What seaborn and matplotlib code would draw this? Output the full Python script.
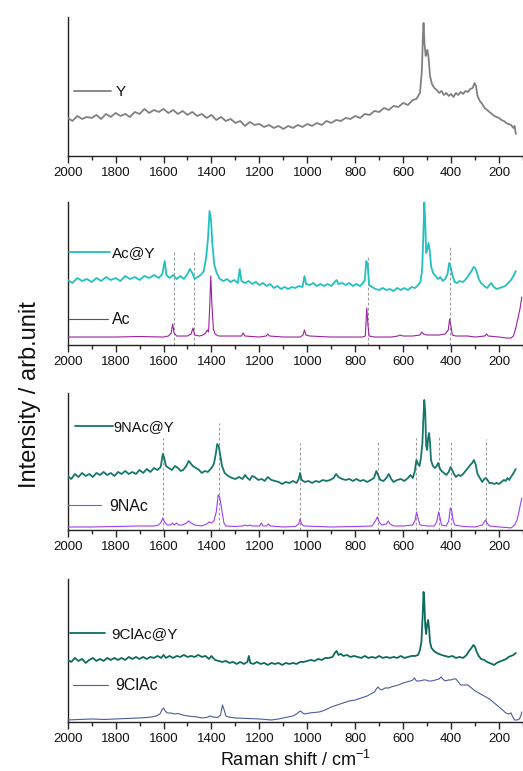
import numpy as np
import pandas as pd
import matplotlib
matplotlib.use('Agg')
import matplotlib.pyplot as plt
from matplotlib.legend import Legend
import seaborn as sns

# Raman spectra (shift in cm-1, intensity in arb. units)
y_pts = [(2000, 38), (1980, 35), (1960, 40), (1940, 37), (1920, 39), (1900, 38), (1880, 41), (1860, 37),
         (1840, 42), (1820, 39), (1800, 43), (1780, 40), (1760, 42), (1740, 39), (1720, 44), (1700, 42),
         (1680, 47), (1660, 43), (1640, 46), (1620, 44), (1600, 47), (1580, 43), (1560, 46), (1540, 42),
         (1520, 45), (1500, 41), (1480, 44), (1460, 40), (1440, 42), (1420, 38), (1400, 41), (1380, 36),
         (1360, 39), (1340, 35), (1320, 37), (1300, 33), (1280, 35), (1260, 30), (1240, 34), (1220, 31),
         (1200, 32), (1180, 29), (1160, 31), (1140, 28), (1120, 30), (1100, 27), (1080, 30), (1060, 28),
         (1040, 31), (1020, 29), (1000, 32), (980, 30), (960, 33), (940, 31), (920, 35), (900, 33),
         (880, 36), (860, 35), (840, 38), (820, 37), (800, 40), (780, 38), (760, 42), (740, 41),
         (720, 45), (700, 44), (680, 48), (660, 46), (640, 50), (620, 49), (600, 53), (580, 51),
         (560, 56), (545, 57), (530, 63), (522, 85), (518, 118), (515, 133), (511, 112), (506, 100),
         (502, 104), (499, 106), (494, 98), (488, 80), (480, 72), (470, 68), (460, 66), (450, 63),
         (440, 65), (430, 61), (420, 63), (410, 60), (400, 62), (390, 59), (380, 63), (370, 61),
         (360, 64), (350, 62), (340, 65), (330, 64), (320, 67), (310, 68), (302, 73), (296, 70),
         (290, 60), (280, 55), (270, 52), (260, 48), (250, 46), (240, 44), (230, 42), (220, 40),
         (210, 39), (200, 38), (190, 36), (180, 35), (170, 33), (160, 32), (150, 31), (140, 28),
         (135, 30), (130, 22)]

acy_pts = [(2000, 65), (1980, 62), (1960, 67), (1940, 64), (1920, 66), (1900, 63), (1880, 67), (1860, 64),
           (1840, 68), (1820, 65), (1800, 67), (1780, 64), (1760, 69), (1740, 66), (1720, 68), (1700, 65),
           (1680, 69), (1660, 67), (1640, 70), (1620, 67), (1605, 71), (1595, 84), (1588, 70), (1575, 67),
           (1560, 70), (1545, 66), (1530, 69), (1515, 66), (1500, 71), (1490, 76), (1480, 72), (1470, 66),
           (1458, 68), (1445, 70), (1432, 74), (1422, 88), (1414, 108), (1408, 134), (1402, 126), (1396, 100),
           (1388, 80), (1378, 72), (1365, 66), (1350, 64), (1335, 66), (1320, 63), (1305, 65), (1290, 62),
           (1282, 76), (1275, 64), (1260, 62), (1245, 64), (1230, 61), (1215, 63), (1200, 60), (1185, 62),
           (1170, 59), (1155, 61), (1140, 57), (1125, 59), (1110, 56), (1095, 58), (1080, 56), (1065, 58),
           (1050, 57), (1035, 59), (1020, 58), (1012, 69), (1005, 61), (990, 60), (975, 62), (960, 59),
           (945, 61), (930, 59), (915, 61), (900, 59), (885, 63), (878, 65), (870, 61), (855, 62),
           (840, 60), (825, 62), (810, 59), (795, 61), (780, 59), (768, 62), (760, 65), (754, 84),
           (748, 80), (742, 60), (730, 58), (715, 56), (700, 55), (685, 57), (670, 55), (655, 56),
           (640, 54), (625, 57), (610, 55), (595, 57), (580, 55), (565, 58), (550, 57), (538, 60),
           (528, 63), (521, 75), (516, 108), (512, 143), (508, 124), (504, 92), (499, 96), (494, 102),
           (489, 94), (483, 78), (475, 72), (465, 69), (455, 66), (445, 68), (435, 64), (425, 66),
           (415, 71), (408, 82), (402, 78), (395, 70), (385, 63), (375, 62), (365, 64), (350, 63),
           (338, 66), (326, 70), (315, 74), (306, 78), (300, 77), (294, 74), (285, 66), (275, 62),
           (262, 59), (250, 57), (240, 60), (232, 62), (222, 58), (210, 56), (198, 57), (186, 58),
           (174, 59), (162, 62), (150, 65), (140, 69), (130, 74)]

ac_pts = [(2000, 8), (1800, 8), (1700, 8.5), (1600, 8), (1580, 9), (1568, 12), (1562, 21), (1556, 12),
          (1545, 9), (1500, 9), (1485, 11), (1477, 17), (1470, 10), (1450, 9), (1435, 10), (1425, 12),
          (1418, 15), (1412, 13), (1407, 40), (1403, 69), (1398, 40), (1392, 16), (1385, 11), (1370, 9),
          (1300, 9), (1275, 9), (1268, 12), (1260, 9), (1200, 8), (1172, 9), (1165, 11), (1158, 9),
          (1100, 8), (1030, 8), (1018, 10), (1012, 15), (1006, 10), (990, 9), (900, 8), (800, 8),
          (770, 8), (758, 9), (752, 37), (747, 20), (742, 9), (720, 8), (650, 8), (622, 9),
          (615, 10), (600, 9), (560, 9), (530, 10), (522, 13), (515, 11), (500, 10), (480, 10),
          (450, 10), (425, 11), (418, 13), (412, 15), (406, 26), (400, 18), (395, 10), (380, 9),
          (330, 9), (300, 8), (260, 9), (252, 11), (245, 9), (200, 8), (170, 7), (150, 7),
          (140, 9), (130, 17), (120, 28), (112, 37), (105, 48)]

nacy_pts = [(2000, 54), (1985, 51), (1970, 56), (1955, 53), (1940, 57), (1925, 54), (1910, 56), (1895, 53),
            (1880, 57), (1865, 55), (1850, 58), (1835, 55), (1820, 57), (1805, 54), (1790, 58), (1775, 56),
            (1760, 59), (1745, 56), (1730, 58), (1715, 56), (1700, 60), (1685, 57), (1670, 61), (1655, 58),
            (1640, 62), (1625, 60), (1612, 63), (1603, 76), (1597, 72), (1590, 64), (1578, 62), (1565, 60),
            (1552, 64), (1540, 62), (1528, 59), (1518, 60), (1505, 64), (1495, 69), (1488, 67), (1478, 64),
            (1465, 62), (1452, 60), (1440, 57), (1428, 59), (1415, 58), (1400, 62), (1390, 66), (1382, 76),
            (1376, 86), (1370, 84), (1364, 76), (1356, 64), (1345, 57), (1330, 54), (1315, 52), (1300, 51),
            (1285, 53), (1270, 51), (1260, 55), (1250, 52), (1240, 50), (1230, 54), (1220, 53), (1205, 50),
            (1190, 51), (1178, 49), (1165, 53), (1150, 50), (1135, 49), (1120, 48), (1105, 46), (1090, 48),
            (1075, 47), (1060, 49), (1045, 47), (1036, 51), (1030, 57), (1024, 50), (1010, 48), (995, 49),
            (980, 47), (965, 49), (950, 48), (935, 50), (920, 49), (905, 50), (890, 52), (880, 56),
            (870, 53), (855, 51), (840, 50), (825, 51), (810, 49), (795, 51), (780, 49), (765, 50),
            (750, 48), (735, 50), (722, 52), (712, 59), (705, 55), (695, 50), (682, 49), (670, 52),
            (660, 56), (650, 51), (640, 48), (625, 50), (610, 51), (595, 49), (580, 52), (570, 55),
            (560, 52), (552, 58), (545, 70), (538, 66), (532, 64), (526, 72), (520, 86), (516, 110),
            (512, 130), (508, 118), (504, 84), (500, 80), (496, 92), (492, 97), (488, 88), (484, 70),
            (476, 64), (468, 62), (460, 64), (454, 67), (448, 62), (440, 59), (430, 57), (420, 55),
            (410, 58), (402, 63), (396, 60), (388, 56), (380, 53), (370, 55), (360, 54), (350, 56),
            (340, 59), (330, 62), (320, 65), (312, 67), (305, 70), (298, 66), (290, 56), (280, 52),
            (270, 48), (262, 51), (255, 52), (248, 50), (240, 47), (230, 47), (220, 46), (210, 47),
            (200, 46), (190, 48), (180, 50), (172, 49), (165, 52), (158, 50), (150, 53), (142, 56),
            (135, 59), (130, 61)]

nac_pts = [(2000, 3), (1900, 3), (1800, 3.5), (1700, 4), (1640, 4), (1620, 5), (1610, 8), (1603, 12),
           (1596, 8), (1585, 5), (1570, 5), (1562, 7), (1555, 5), (1545, 7), (1538, 5), (1520, 5),
           (1505, 7), (1495, 9), (1485, 7), (1470, 5), (1440, 4), (1420, 6), (1410, 8), (1400, 7),
           (1390, 9), (1380, 18), (1372, 35), (1366, 33), (1360, 25), (1354, 16), (1348, 7), (1340, 4),
           (1300, 3.5), (1270, 4), (1262, 5), (1250, 4), (1240, 5), (1230, 4), (1200, 4), (1192, 7),
           (1185, 4), (1170, 4), (1162, 6), (1155, 4), (1100, 3), (1050, 3.5), (1036, 6), (1030, 11),
           (1024, 6), (1015, 4), (900, 3), (800, 3.5), (730, 4), (716, 9), (708, 13), (700, 8),
           (690, 5), (670, 6), (662, 9), (655, 6), (640, 4), (600, 4), (560, 5), (550, 10),
           (544, 18), (538, 12), (530, 5), (500, 4), (470, 4), (460, 8), (452, 18), (446, 12),
           (440, 5), (420, 4), (410, 9), (403, 22), (398, 20), (392, 10), (385, 5), (350, 3.5),
           (300, 3), (270, 5), (262, 8), (256, 10), (250, 7), (240, 4), (200, 3), (170, 2.5),
           (150, 2), (135, 5), (125, 10), (118, 17), (112, 24), (105, 32)]

clacy_pts = [(2000, 62), (1985, 60), (1970, 64), (1955, 61), (1940, 63), (1925, 59), (1910, 62), (1895, 64),
             (1880, 61), (1865, 63), (1850, 61), (1835, 64), (1820, 62), (1805, 64), (1790, 62), (1775, 64),
             (1760, 62), (1745, 65), (1730, 63), (1715, 65), (1700, 63), (1685, 65), (1670, 63), (1655, 65),
             (1640, 64), (1625, 66), (1610, 64), (1600, 67), (1590, 64), (1575, 66), (1560, 64), (1545, 66),
             (1530, 65), (1515, 67), (1500, 65), (1485, 66), (1470, 65), (1455, 67), (1440, 65), (1425, 66),
             (1410, 63), (1400, 66), (1385, 62), (1370, 61), (1355, 60), (1340, 61), (1325, 59), (1310, 60),
             (1295, 58), (1280, 60), (1265, 58), (1250, 60), (1244, 66), (1238, 59), (1225, 58), (1210, 60),
             (1195, 58), (1180, 59), (1165, 57), (1150, 59), (1135, 58), (1120, 59), (1105, 57), (1090, 59),
             (1075, 58), (1060, 59), (1045, 58), (1030, 60), (1015, 60), (1000, 61), (985, 62), (970, 61),
             (955, 63), (940, 62), (925, 64), (910, 64), (895, 65), (885, 69), (878, 71), (870, 67),
             (860, 68), (850, 66), (835, 67), (820, 65), (805, 66), (790, 65), (775, 64), (760, 66),
             (745, 64), (730, 65), (715, 64), (700, 66), (685, 64), (670, 65), (655, 64), (640, 65),
             (625, 64), (610, 66), (595, 64), (580, 65), (565, 66), (550, 66), (538, 67), (530, 72),
             (524, 80), (519, 105), (515, 130), (512, 122), (508, 96), (504, 88), (500, 98), (496, 102),
             (492, 94), (488, 80), (482, 74), (472, 71), (460, 69), (450, 68), (440, 67), (425, 66),
             (410, 65), (395, 66), (380, 64), (365, 65), (350, 64), (335, 67), (325, 71), (315, 74),
             (307, 77), (300, 75), (293, 70), (285, 66), (275, 63), (262, 62), (250, 60), (240, 59),
             (230, 58), (220, 57), (210, 59), (200, 60), (190, 61), (180, 62), (170, 63), (160, 65),
             (150, 66), (140, 67), (130, 69)]

clac_pts = [(2000, 2), (1950, 2.5), (1900, 3), (1850, 2.5), (1800, 3), (1750, 3.5), (1700, 4), (1670, 4.5),
            (1650, 5), (1630, 6), (1615, 8), (1607, 12), (1600, 14), (1593, 11), (1585, 9), (1570, 9),
            (1555, 8), (1540, 8.5), (1520, 7), (1500, 6), (1480, 5.5), (1460, 5), (1440, 4), (1420, 4.5),
            (1405, 6), (1395, 5), (1375, 4.5), (1362, 7), (1354, 17), (1347, 12), (1340, 6), (1330, 5),
            (1300, 4), (1250, 3.5), (1200, 3), (1150, 2), (1120, 3), (1100, 4), (1080, 5), (1060, 6),
            (1045, 8), (1035, 10), (1028, 11), (1020, 9), (1010, 8), (990, 9), (970, 9.5), (950, 10),
            (925, 12), (900, 15), (875, 17), (850, 19), (825, 21), (800, 22), (775, 24), (750, 26),
            (735, 28), (720, 30), (712, 33), (705, 35), (698, 33), (690, 32), (675, 34), (660, 34),
            (650, 35), (635, 36), (620, 37), (600, 39), (585, 40), (570, 41), (560, 42), (553, 44),
            (545, 41), (530, 41), (515, 42), (505, 42), (495, 41), (480, 41), (465, 42), (450, 43),
            (442, 45), (435, 43), (425, 41), (410, 42), (400, 42), (390, 43), (380, 43), (370, 40),
            (360, 37), (345, 37), (330, 37), (315, 34), (300, 31), (285, 29), (270, 27), (255, 25),
            (240, 23), (225, 20), (210, 17), (200, 15), (185, 12), (172, 9), (160, 8), (150, 9),
            (143, 5), (135, 2), (125, 2), (115, 3), (108, 7), (105, 10)]

# guide lines (position, top)
ac_marks = [(1556, 95), (1474, 93), (747, 88), (403, 98)]
nac_marks = [(1602, 92), (1369, 107), (1029, 87), (707, 89), (545, 92), (450, 95), (399, 90), (256, 91)]

labels = ['Y', 'Ac@Y', 'Ac', '9NAc@Y', '9NAc', '9ClAc@Y', '9ClAc']
colors = ['#808080', '#22c0c0', '#9a22a0', '#17766c', '#a040f0', '#0f6b60', '#4b5c9c']

# %%
sns.set_theme(style="ticks")
plt.rcParams['font.family'] = ['Liberation Sans', 'DejaVu Sans']
plt.rcParams['mathtext.default'] = 'regular'

fig = plt.figure(figsize=(5.23, 7.71), dpi=100)
# [left, bottom, width, height], ylim top
panels = [([0.1294, 0.7977, 0.8706, 0.1803], 139),
          ([0.1294, 0.5525, 0.8706, 0.1855], 143),
          ([0.1294, 0.3126, 0.8706, 0.1777], 137),
          ([0.1294, 0.0636, 0.8706, 0.1855], 143)]
axes = [fig.add_axes(p[0]) for p in panels]


def to_df(pts):
    return pd.DataFrame(pts, columns=['shift', 'intensity'])


def draw(ax, pts, color, lw):
    sns.lineplot(data=to_df(pts), x='shift', y='intensity', ax=ax, color=color,
                 lw=lw, estimator=None, sort=False, zorder=3)
    return ax.lines[-1]


def add_label(ax, line, text, x, y, fs, hl, pad):
    leg = Legend(ax, [line], [text], loc='center left', bbox_to_anchor=(x, y),
                 frameon=False, fontsize=fs, handlelength=hl, handletextpad=pad,
                 borderpad=0, borderaxespad=0)
    for t in leg.get_texts():
        t.set_color('#111111')
    ax.add_artist(leg)


ax1, ax2, ax3, ax4 = axes

# guide lines first so spectra sit on top
for ax, marks in [(ax2, ac_marks), (ax3, nac_marks)]:
    mk = np.array(marks)
    ax.vlines(mk[:, 0], 0, mk[:, 1], colors='#9a9a9a', linestyles=(0, (2.5, 2)), lw=0.8, zorder=1)

l = draw(ax1, y_pts, colors[0], 1.3)
add_label(ax1, l, labels[0], 0.014, 0.46, 11, 2.42, 0.33)

l = draw(ax2, acy_pts, colors[1], 1.3)
add_label(ax2, l, labels[1], 0.003, 0.643, 11, 2.68, 0.13)
l = draw(ax2, ac_pts, colors[2], 0.8)
add_label(ax2, l, labels[2], 0.003, 0.175, 11.5, 2.44, 0.25)

l = draw(ax3, nacy_pts, colors[3], 1.3)
add_label(ax3, l, labels[3], 0.016, 0.752, 10.5, 2.6, 0.0)
l = draw(ax3, nac_pts, colors[4], 0.8)
add_label(ax3, l, labels[4], 0.0, 0.175, 11.5, 2.1, 0.5)

l = draw(ax4, clacy_pts, colors[5], 1.3)
add_label(ax4, l, labels[5], 0.005, 0.615, 11, 2.3, 0.38)
l = draw(ax4, clac_pts, colors[6], 0.8)
add_label(ax4, l, labels[6], 0.012, 0.252, 11.5, 2.2, 0.44)

for ax, (pos, top) in zip(axes, panels):
    ax.set_xlim(2000, 105)
    ax.set_ylim(0, top)
    ax.set_yticks([])
    ax.set_xticks(np.arange(200, 2001, 200))
    ax.set_xticks(np.arange(100, 2001, 100), minor=True)
    ax.tick_params(axis='x', which='major', length=5, width=1, direction='out',
                   labelsize=9.5, pad=3, labelcolor='#111111')
    ax.tick_params(axis='x', which='minor', length=3, width=1, direction='out')
    ax.set_xlabel('')
    ax.set_ylabel('')
    for s in ['top', 'right']:
        ax.spines[s].set_visible(False)
    for s in ['left', 'bottom']:
        ax.spines[s].set_linewidth(1)
        ax.spines[s].set_color('#222222')
    ax.set_facecolor('none')

fig.text(0.057, 0.4877, 'Intensity / arb.unit', rotation=90, ha='center', va='center',
         fontsize=17, color='#111111')
fig.text(0.565, 0.0143, 'Raman shift / cm$^{-1}$', ha='center', va='center',
         fontsize=13, color='#111111')

plt.savefig('out.png', dpi=100)
